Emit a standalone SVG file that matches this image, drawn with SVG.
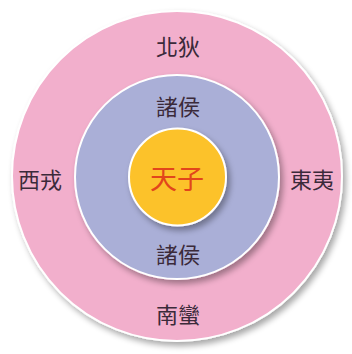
<svg xmlns="http://www.w3.org/2000/svg" width="352" height="354" viewBox="0 0 352 354">
<defs>
<filter id="sh" x="-20%" y="-20%" width="140%" height="140%">
<feGaussianBlur in="SourceAlpha" stdDeviation="3"/>
<feOffset dx="3" dy="4" result="b"/>
<feComponentTransfer><feFuncA type="linear" slope="0.35"/></feComponentTransfer>
<feMerge><feMergeNode/><feMergeNode in="SourceGraphic"/></feMerge>
</filter>
<style>
.lbl{font-family:"Noto Sans CJK TC","Noto Sans CJK SC",sans-serif;font-size:22px;fill:#3b2a3a;text-anchor:middle;dominant-baseline:central}
.ring{stroke:#ffffff;stroke-width:2}
</style>
</defs>
<rect width="352" height="354" fill="#ffffff"/>
<g id="outer">
<circle class="ring" cx="177" cy="176" r="165" fill="#F2AFCC" filter="url(#sh)"/>
<text class="lbl" x="178" y="45">北狄</text>
<text class="lbl" x="178" y="313">南蠻</text>
<text class="lbl" x="40" y="178">西戎</text>
<text class="lbl" x="312" y="178">東夷</text>
</g>
<g id="middle">
<circle class="ring" cx="177" cy="177" r="102" fill="#AAAFD7" filter="url(#sh)"/>
<text class="lbl" x="178" y="105">諸侯</text>
<text class="lbl" x="178" y="253">諸侯</text>
</g>
<g id="center">
<circle class="ring" cx="177.5" cy="177" r="48.5" fill="#FCC22C" filter="url(#sh)"/>
<text class="lbl" x="177" y="177" style="font-size:27px;fill:#E2461B">天子</text>
</g>
<g id="connectors"/>
</svg>
